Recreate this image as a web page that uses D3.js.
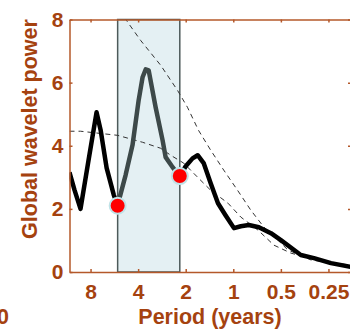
<!DOCTYPE html>
<html>
    <head>
        <script src="https://d3js.org/d3.v7.min.js"></script>
        <style>
            body, html {
                margin: 0;
                padding: 0;
                background: #ffffff;
                font-family: "Liberation Sans", Arial, Helvetica, sans-serif;
            }
            .axis path, .axis line {
                stroke: #b4582a;
                stroke-width: 1.5;
            }
            .axis text {
                fill: #a5420f;
                font-size: 21px;
                font-weight: bold;
            }
            .axisLabel {
                fill: #a5420f;
                font-size: 21.5px;
                font-weight: bold;
            }
            .sig {
                fill: none;
                stroke: #333333;
                stroke-width: 1;
                stroke-dasharray: 5 4;
            }
        </style>
    </head>
    <body>
        <div id="chart"></div>
        <script>

            /* DATA (period in years, global wavelet power) */
            const xTicks = [8, 4, 2, 1, 0.5, 0.25];
            const yTicks = [0, 2, 4, 6, 8];

            const powerLeftPeriod = [10.87, 10.11, 9.26, 8.24, 7.33, 6.91, 6.33, 5.71, 5.39];
            const powerLeftValue  = [3.16, 2.6, 2.0, 3.54, 5.06, 4.5, 3.3, 2.45, 2.1];

            const powerBandPeriod = [5.39, 4.80, 4.34, 3.97, 3.75, 3.58, 3.43, 3.10, 2.80, 2.68, 2.42, 2.18];
            const powerBandValue  = [2.12, 3.07, 4.02, 5.44, 6.17, 6.42, 6.39, 5.22, 4.17, 3.64, 3.32, 3.04];

            const powerRightPeriod = [2.18, 2.0, 1.81, 1.68, 1.54, 1.39, 1.25, 1.12, 0.99, 0.896, 0.797, 0.689, 0.578, 0.5, 0.374, 0.309, 0.241, 0.18];
            const powerRightValue  = [3.04, 3.35, 3.60, 3.70, 3.45, 2.81, 2.18, 1.80, 1.39, 1.45, 1.49, 1.42, 1.23, 1.01, 0.54, 0.44, 0.28, 0.16];

            const sigLowPeriod = [10.87, 9.26, 5.39, 3.75, 2.88, 2.49, 2.06, 1.68, 1.39, 1.08, 0.896, 0.699, 0.553, 0.433, 0.252, 0.18];
            const sigLowValue  = [4.46, 4.46, 4.33, 4.11, 3.92, 3.70, 3.45, 3.00, 2.59, 2.18, 1.74, 1.33, 0.85, 0.60, 0.28, 0.22];

            const sigHighPeriod = [4.87, 4.59, 3.86, 2.88, 2.25, 1.95, 1.66, 1.39, 1.15, 0.94, 0.775, 0.64, 0.578, 0.452, 0.322, 0.23, 0.18];
            const sigHighValue  = [8.06, 7.87, 7.34, 6.55, 5.75, 5.22, 4.49, 3.86, 3.23, 2.59, 1.96, 1.42, 1.23, 0.70, 0.38, 0.28, 0.22];

            const band = [5.39, 2.18];
            const markerPeriod = [5.39, 2.18];
            const markerValue = [2.1, 3.04];

            /* CANVAS */
            const width = 350;
            const height = 331;
            const plot = {left: 69.5, right: 351, top: 19.5, bottom: 272};

            const svg = d3.select("#chart")
                .append("svg")
                .attr("width", width)
                .attr("height", height);

            const xScale = d3.scaleLog()
                .domain([10.87, 0.18])
                .range([plot.left, plot.right]);

            const yScale = d3.scaleLinear()
                .domain([0, 8])
                .range([plot.bottom, plot.top]);

            svg.append("defs").append("clipPath")
                .attr("id", "clip")
                .append("rect")
                .attr("x", plot.left)
                .attr("y", plot.top)
                .attr("width", plot.right - plot.left)
                .attr("height", plot.bottom - plot.top);

            const zip = (ps, vs) => ps.map((p, i) => [p, vs[i]]);

            const line = d3.line()
                .x(d => xScale(d[0]))
                .y(d => yScale(d[1]));

            /* shaded period band */
            svg.append("rect")
                .attr("x", xScale(band[0]))
                .attr("y", yScale(8))
                .attr("width", xScale(band[1]) - xScale(band[0]))
                .attr("height", yScale(0) - yScale(8))
                .attr("fill", "#e4f0f3")
                .attr("stroke", "#4d5a5a")
                .attr("stroke-width", 1.5);

            const g = svg.append("g").attr("clip-path", "url(#clip)");

            // significance curves
            g.append("path").attr("class", "sig").attr("d", line(zip(sigLowPeriod, sigLowValue)));
            g.append("path").attr("class", "sig").attr("d", line(zip(sigHighPeriod, sigHighValue)));

            // global wavelet power
            g.append("path")
                .attr("d", line(zip(powerLeftPeriod, powerLeftValue)))
                .attr("fill", "none")
                .attr("stroke", "#000000")
                .attr("stroke-width", 4.5)
                .attr("stroke-linejoin", "round");

            g.append("path")
                .attr("d", line(zip(powerRightPeriod, powerRightValue)))
                .attr("fill", "none")
                .attr("stroke", "#000000")
                .attr("stroke-width", 4.5)
                .attr("stroke-linejoin", "round");

            g.append("path")
                .attr("d", line(zip(powerBandPeriod, powerBandValue)))
                .attr("fill", "none")
                .attr("stroke", "#3d4949")
                .attr("stroke-width", 4.5)
                .attr("stroke-linejoin", "round");

            /* AXES (ticks point inward) */
            const fmt = d => String(d);

            svg.append("g")
                .attr("class", "axis")
                .attr("transform", `translate(0,${plot.bottom})`)
                .call(d3.axisBottom(xScale).tickValues(xTicks).tickFormat(fmt).tickSizeInner(-3).tickSizeOuter(0).tickPadding(12));

            svg.append("g")
                .attr("class", "axis")
                .attr("transform", `translate(0,${plot.top})`)
                .call(d3.axisTop(xScale).tickValues(xTicks).tickFormat("").tickSizeInner(-3).tickSizeOuter(0));

            svg.append("g")
                .attr("class", "axis")
                .attr("transform", `translate(${plot.left},0)`)
                .call(d3.axisLeft(yScale).tickValues(yTicks).tickFormat(fmt).tickSizeInner(-3).tickSizeOuter(0).tickPadding(6));

            svg.append("g")
                .attr("class", "axis")
                .attr("transform", `translate(${plot.right},0)`)
                .call(d3.axisRight(yScale).tickValues(yTicks).tickFormat("").tickSizeInner(-3).tickSizeOuter(0));

            svg.selectAll(".axis .domain").attr("stroke", "#b4582a");

            /* band end markers */
            svg.append("g").selectAll("circle")
                .data(zip(markerPeriod, markerValue))
                .enter()
                .append("circle")
                    .attr("cx", d => xScale(d[0]))
                    .attr("cy", d => yScale(d[1]))
                    .attr("r", 8)
                    .attr("fill", "#ff0000")
                    .attr("stroke", "#bfe3e8")
                    .attr("stroke-width", 2);

            /* LABELS */
            svg.append("text")
                .attr("class", "axisLabel")
                .attr("x", 210)
                .attr("y", 324)
                .attr("text-anchor", "middle")
                .text("Period (years)");

            svg.append("text")
                .attr("class", "axisLabel")
                .attr("transform", "translate(37,129) rotate(-90)")
                .attr("text-anchor", "middle")
                .text("Global wavelet power");

            // label from the neighbouring panel, cut by the edge as in the reference
            svg.append("text")
                .attr("class", "axisLabel")
                .attr("x", 9)
                .attr("y", 324)
                .attr("text-anchor", "end")
                .text("0");

        </script>
    </body>
</html>
